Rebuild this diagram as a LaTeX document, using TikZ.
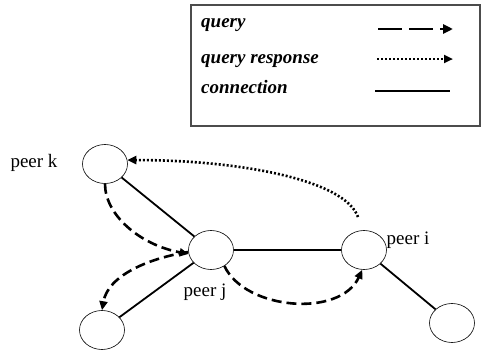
\documentclass[tikz,border=0pt]{standalone}
\usepackage{fontspec}
\setmainfont{Liberation Serif}
\usetikzlibrary{shapes.geometric,arrows.meta}
\begin{document}
\begin{tikzpicture}[x=1pt,y=-1pt,
  peer/.style={draw,ellipse,line width=0.6pt,inner sep=0pt,minimum width=45pt,minimum height=39pt},
  conn/.style={line width=1.8pt},
  query/.style={line width=2.6pt,dash pattern=on 10pt off 5pt,-{Triangle[length=9pt,width=8pt]}},
  resp/.style={line width=2.6pt,dash pattern=on 2pt off 2pt,-{Triangle[length=9pt,width=8pt]}},
  lbl/.style={font=\fontsize{19}{22}\selectfont,inner sep=0pt},
  leg/.style={font=\fontsize{19}{22}\selectfont\bfseries\itshape,inner sep=0pt,anchor=base west}]
\useasboundingbox (0,0) rectangle (483,351);
% legend
\draw[line width=1.2pt,draw=black!70] (191,5) rectangle (480,126);
\node[leg] (lq) at (201,27) {query};
\node[leg] (lr) at (201,63) {query response};
\node[leg] (lc) at (201,93) {connection};
\coordinate (q1) at (378,29); \coordinate (q2) at (453,29);
\coordinate (r1) at (377,59); \coordinate (r2) at (453,59);
\coordinate (c1) at (375,91); \coordinate (c2) at (450,91);
\draw[line width=2.8pt,dash pattern=on 24pt off 7pt,-{Triangle[length=10pt,width=9pt]}] (q1) -- (q2);
\draw[resp] (r1) -- (r2);
\draw[line width=1.8pt] (c1) -- (c2);
% peers
\node[peer] (k) at (105,164) {};
\node[peer] (j) at (211,250) {};
\node[peer] (i) at (364,250) {};
\node[peer] (bl) at (102,330) {};
\node[peer] (br) at (452,323) {};
\node[lbl] (lk) at (34,163) {peer k};
\node[lbl] (lj) at (205,292) {peer j};
\node[lbl] (li) at (408,240) {peer i};
% connections
\draw[conn] (k) -- (j);
\draw[conn] (j) -- (i);
\draw[conn] (j) -- (bl);
\draw[conn] (i) -- (br);
% queries
\draw[query] (k.-90) .. controls (105,215) and (140,245) .. (j.190);
\draw[query] (j.185) .. controls (150,258) and (108,275) .. (bl.north);
\draw[query] (j.-50) .. controls (245,310) and (340,318) .. (i.-95);
% response
\coordinate (rs) at (358,217);
\draw[resp] (rs) .. controls (345,180) and (240,160) .. (k.10);
\end{tikzpicture}
\end{document}
